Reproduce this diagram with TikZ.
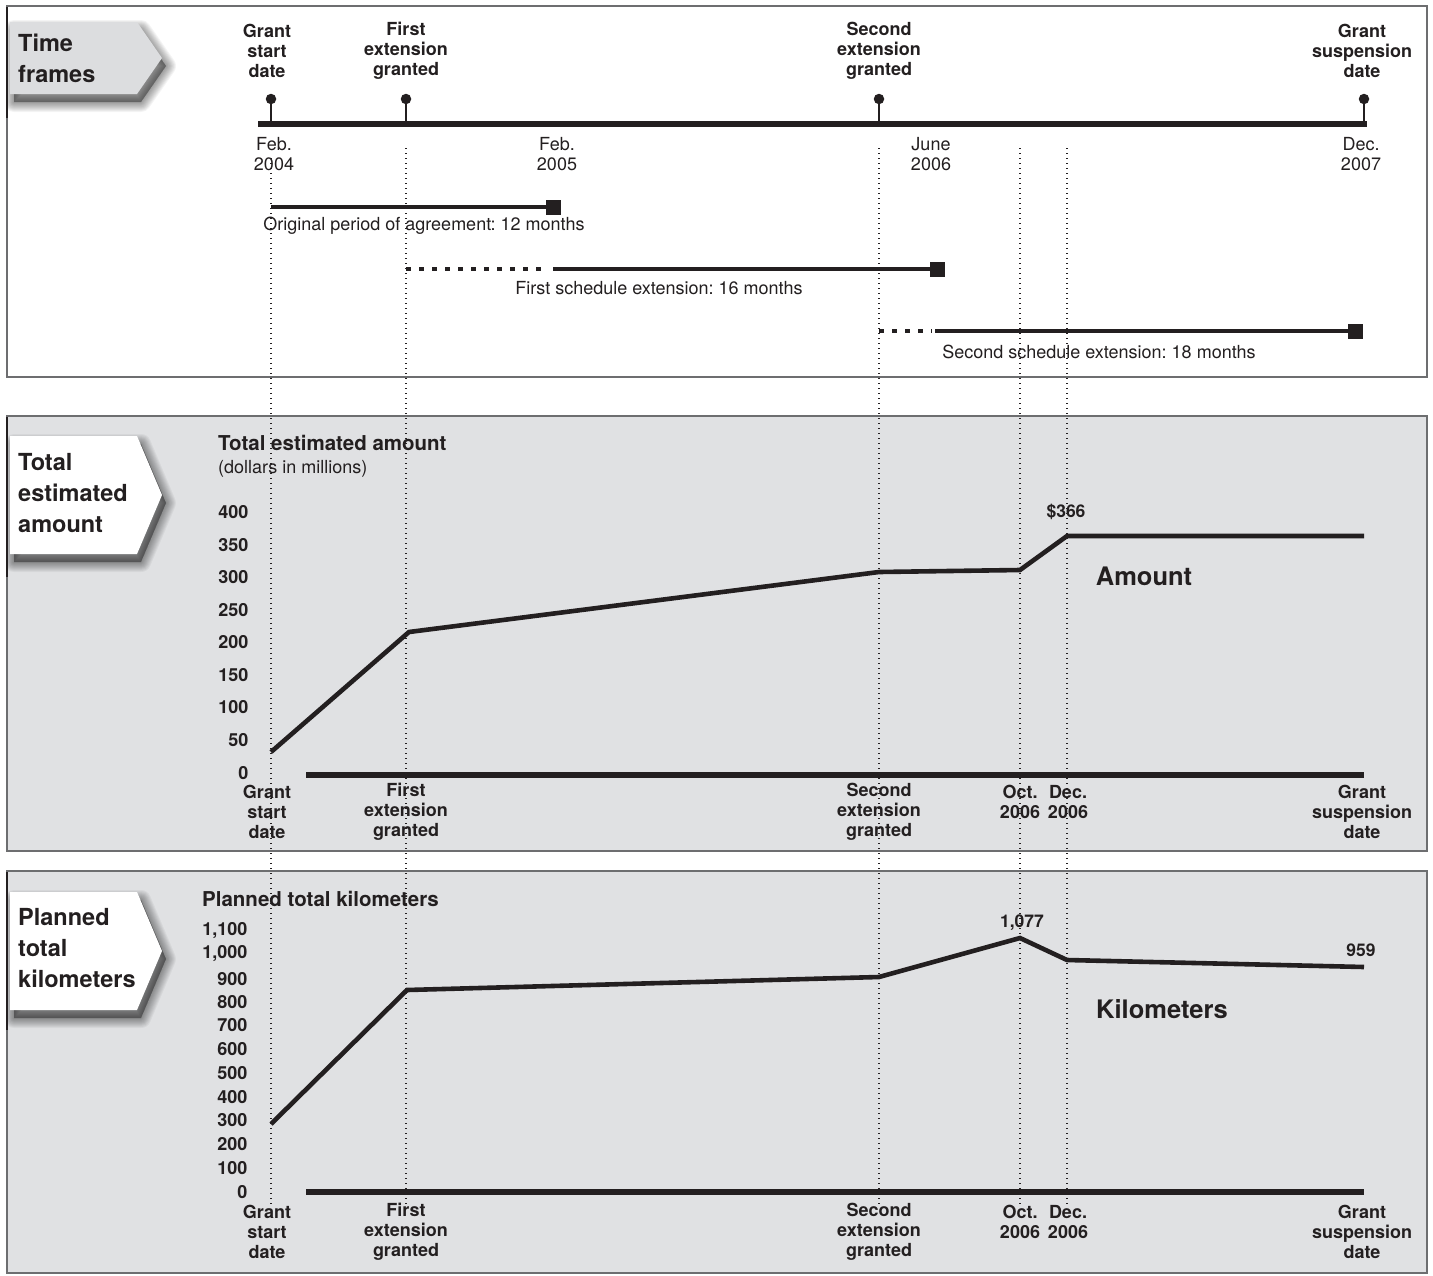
\documentclass[tikz,border=0pt]{standalone}
\usepackage{fontspec}
\setmainfont{TeX Gyre Heros}
\frenchspacing
\definecolor{ink}{HTML}{231F20}
\definecolor{panelgray}{HTML}{E0E1E3}
\definecolor{tabgray}{HTML}{DCDDDF}
\definecolor{rulegray}{HTML}{6D6E70}
\tikzset{
  panel/.style={draw=rulegray, line width=1.3},
  tabtxt/.style={font=\fontsize{23.5}{31}\selectfont\bfseries, align=left, anchor=west, inner sep=0, text=ink},
  hdr/.style={font=\fontsize{18}{20}\selectfont\bfseries, align=center, inner sep=0, text=ink},
  ticktxt/.style={font=\fontsize{18}{20}\selectfont, align=center, inner sep=0, text=ink},
  bartxt/.style={font=\fontsize{18}{20}\selectfont, inner sep=0, text=ink},
  ylab/.style={font=\fontsize{18}{18}\selectfont\bfseries, anchor=east, inner sep=0, text=ink},
  headtxt/.style={font=\fontsize{20.5}{22}\selectfont\bfseries, anchor=west, inner sep=0, text=ink},
  subtxt/.style={font=\fontsize{18}{20}\selectfont, anchor=west, inner sep=0, text=ink},
  bigtxt/.style={font=\fontsize{25.5}{28}\selectfont\bfseries, inner sep=0, text=ink},
  valtxt/.style={font=\fontsize{17.5}{18}\selectfont\bfseries, inner sep=0, text=ink},
  guide/.style={draw=ink, line width=1.4, dash pattern=on 1.4pt off 3.6pt},
  dataline/.style={draw=ink, line width=4.6, line join=miter},
  axisline/.style={draw=ink, line width=6},
  bar/.style={draw=ink, line width=4},
  dashbar/.style={draw=ink, line width=4, dash pattern=on 5pt off 8pt},
  endsq/.style={rectangle, fill=ink, minimum size=15, inner sep=0},
  pin/.style={circle, fill=ink, minimum size=10.5, inner sep=0},
}
\newcommand\mytab[4]{% top, mid, bottom, fill
  \foreach \w in {20,18,...,2}{
    \filldraw[black, opacity=0.045, line width=\w, line join=round, shift={(4,8)}]
      (10,#1) -- (137,#1) -- (162,#2) -- (137,#3) -- (10,#3) -- cycle;}
  \fill[#4] (10,#1) -- (137,#1) -- (162,#2) -- (137,#3) -- (10,#3) -- cycle;
}
\begin{document}
\begin{tikzpicture}[x=1pt,y=-1pt]
\useasboundingbox (0,0) rectangle (1433,1275);
% panels
\draw[panel, fill=white] (7,6) rectangle (1427,377);
\draw[panel, fill=panelgray] (7,416) rectangle (1427,851);
\draw[panel, fill=panelgray] (7,871) rectangle (1427,1273);
% tabs
\begin{scope}
\clip (7,6) rectangle (1427,377);
\mytab{22}{58}{94}{tabgray}
\end{scope}
\begin{scope}
\clip (7,416) rectangle (1427,851);
\mytab{436}{495}{554}{white}
\end{scope}
\begin{scope}
\clip (7,871) rectangle (1427,1273);
\mytab{892}{951}{1010}{white}
\end{scope}
\draw[ink, line width=2.2] (7,7) -- (7,118);
\draw[ink, line width=2.2] (7,417) -- (7,577);
\draw[ink, line width=2.2] (7,872) -- (7,1030);
\node[tabtxt] (tab1) at (18,58.5) {Time\\frames};
\node[tabtxt] (tab2) at (18,493.5) {Total\\estimated\\amount};
\node[tabtxt] (tab3) at (18,948.5) {Planned\\total\\kilometers};

% guides
\coordinate (g1t) at (271,158); \coordinate (g1b) at (271,1205);
\coordinate (g2t) at (406,148); \coordinate (g2b) at (406,1205);
\coordinate (g3t) at (879,148); \coordinate (g3b) at (879,1205);
\coordinate (g4t) at (1020,148); \coordinate (g4b) at (1020,1205);
\coordinate (g5t) at (1067,148); \coordinate (g5b) at (1067,1205);
\foreach \g in {1,...,5}{\draw[guide] (g\g t) -- (g\g b);}

% timeline
\coordinate (tlL) at (258,124); \coordinate (tlR) at (1366.5,124);
\draw[axisline] (tlL) -- (tlR);
\foreach \n/\x in {1/271,2/406,3/879,4/1364}{
  \node[pin] (pin\n) at (\x,99) {};
  \coordinate (stem\n) at (\x,124);
  \draw[ink, line width=2.4] (pin\n.center) -- (stem\n);
}
\node[hdr] (h1) at (267,51) {Grant\\start\\date};
\node[hdr] (h2) at (406,51) {First\\extension\\granted};
\node[hdr] (h3) at (879,51) {Second\\extension\\granted};
\node[hdr] (h4) at (1362,51) {Grant\\suspension\\date};
\node[ticktxt] (t1) at (274,154) {Feb.\\2004};
\node[ticktxt] (t2) at (557,154) {Feb.\\2005};
\node[ticktxt] (t3) at (931,154) {June\\2006};
\node[ticktxt] (t4) at (1361,154) {Dec.\\2007};

% period bars
\coordinate (o1) at (271,207);
\node[endsq] (o2) at (553,207) {};
\draw[bar] (o1) -- (o2.center);
\node[bartxt] (ol) at (424,226) {Original period of agreement: 12 months};
\coordinate (f0) at (406,269); \coordinate (f1) at (546,269); \coordinate (f2) at (553,269);
\node[endsq] (f3) at (937,269) {};
\draw[dashbar] (f0) -- (f1);
\draw[bar] (f2) -- (f3.center);
\node[bartxt] (fl) at (659,288) {First schedule extension: 16 months};
\coordinate (s0) at (879,331); \coordinate (s1) at (932,331); \coordinate (s2) at (935,331);
\node[endsq] (s3) at (1355,331) {};
\draw[dashbar] (s0) -- (s1);
\draw[bar] (s2) -- (s3.center);
\node[bartxt] (sl) at (1099,352) {Second schedule extension: 18 months};

% amount chart
\node[headtxt] (ah) at (218,443) {Total estimated amount};
\node[subtxt] (as) at (218,469) {(dollars in millions)};
\foreach \v/\y in {400/512,350/545,300/577,250/610,200/642,150/675,100/707,50/740,0/773}{
  \node[ylab] (ay\v) at (248.5,\y) {\v};}
\coordinate (a2L) at (306,775); \coordinate (a2R) at (1364,775);
\draw[axisline] (a2L) -- (a2R);
\coordinate (ap1) at (271,752); \coordinate (ap2) at (409,632);
\coordinate (ap3) at (879,572); \coordinate (ap4) at (1020,570);
\coordinate (ap5) at (1067,536); \coordinate (ap6) at (1364,536);
\draw[dataline] (ap1) -- (ap2) -- (ap3) -- (ap4) -- (ap5) -- (ap6);
\node[valtxt] (av) at (1066,512) {\$366};
\node[bigtxt] (al) at (1144,576) {Amount};
\node[hdr] (ab1) at (267,812) {Grant\\start\\date};
\node[hdr] (ab2) at (406,812) {First\\extension\\granted};
\node[hdr] (ab3) at (879,812) {Second\\extension\\granted};
\node[hdr] (ab4) at (1020,802) {Oct.\\2006};
\node[hdr] (ab5) at (1068,802) {Dec.\\2006};
\node[hdr] (ab6) at (1362,812) {Grant\\suspension\\date};

% kilometers chart
\node[headtxt] (kh) at (202,899) {Planned total kilometers};
\foreach \v/\y [count=\i] in {{1,100}/931,{1,000}/954,900/979,800/1002,700/1025,600/1049,500/1073,400/1097,300/1120,200/1144,100/1168,0/1192}{
  \node[ylab] (ky\i) at (247.5,\y) {\v};}
\coordinate (k3L) at (306,1192); \coordinate (k3R) at (1364,1192);
\draw[axisline] (k3L) -- (k3R);
\coordinate (kp1) at (271,1124); \coordinate (kp2) at (407,990);
\coordinate (kp3) at (879,977); \coordinate (kp4) at (1020,938);
\coordinate (kp5) at (1067,960); \coordinate (kp6) at (1364,967);
\draw[dataline] (kp1) -- (kp2) -- (kp3) -- (kp4) -- (kp5) -- (kp6);
\node[valtxt] (kv1) at (1022,923) {1,077};
\node[valtxt] (kv2) at (1361,950) {959};
\node[bigtxt] (kl) at (1162,1009) {Kilometers};
\node[hdr] (kb1) at (267,1232) {Grant\\start\\date};
\node[hdr] (kb2) at (406,1232) {First\\extension\\granted};
\node[hdr] (kb3) at (879,1232) {Second\\extension\\granted};
\node[hdr] (kb4) at (1020,1222) {Oct.\\2006};
\node[hdr] (kb5) at (1068,1222) {Dec.\\2006};
\node[hdr] (kb6) at (1362,1232) {Grant\\suspension\\date};
\end{tikzpicture}
\end{document}
